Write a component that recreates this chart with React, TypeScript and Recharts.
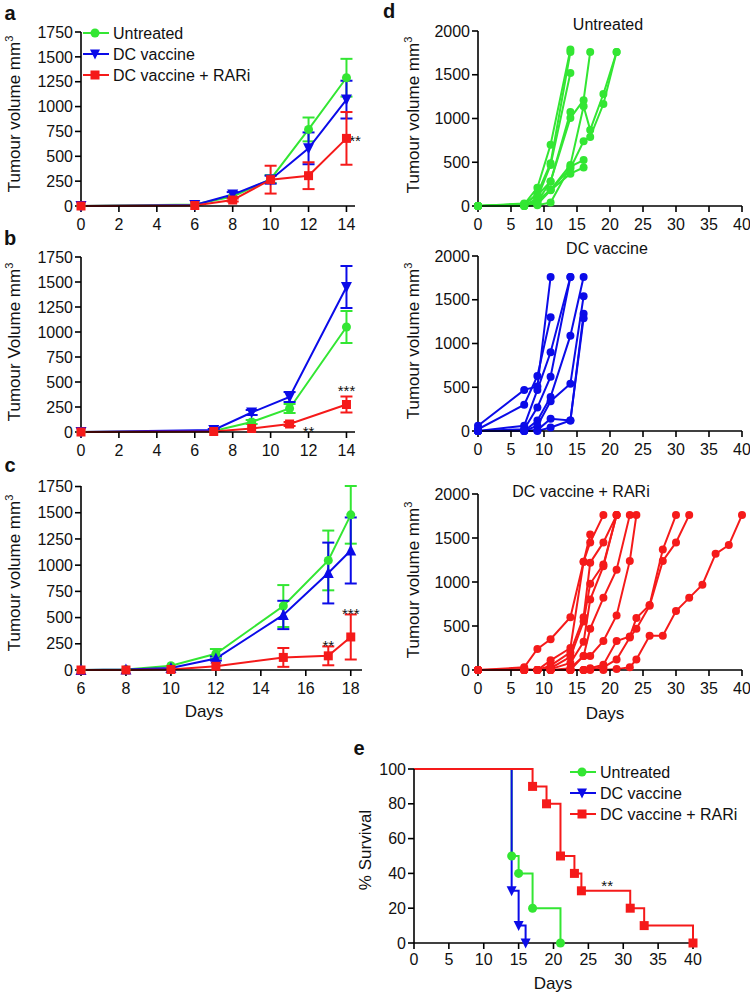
import React from 'react';
import { LineChart, Line, XAxis, YAxis, ErrorBar, ReferenceDot, Legend } from 'recharts';

const GREEN = '#33e633';
const BLUE = '#0b0be8';
const RED = '#f51a1a';
const FONT = '"Liberation Sans", Arial, Helvetica, sans-serif';

// panel a
const daysA = [0, 6, 8, 10, 12, 14];
const untreatedA = [0, 15, 95, 270, 770, 1290];
const untreatedErrA = [null, null, null, 40, 120, 190];
const dcA = [0, 10, 115, 265, 580, 1070];
const dcErrA = [null, null, 25, 40, 160, 190];
const rariA = [0, 5, 60, 265, 305, 680];
const rariErrA = [null, null, 15, 140, 135, 265];

// panel b
const daysB = [0, 7, 9, 11, 14];
const untreatedB = [0, 10, 100, 235, 1050];
const untreatedErrB = [null, null, 20, 45, 160];
const dcB = [0, 20, 195, 350, 1450];
const dcErrB = [null, 10, 25, 50, 210];
const rariB = [0, 5, 35, 80, 275];
const rariErrB = [null, null, null, 20, 80];

// panel c
const daysC = [6, 8, 10, 12, 15, 17, 18];
const untreatedC = [0, 5, 40, 155, 610, 1045, 1480];
const untreatedErrC = [null, null, null, 45, 200, 285, 275];
const dcC = [0, 5, 20, 110, 525, 925, 1140];
const dcErrC = [null, null, null, 20, 135, 290, 315];
const rariC = [0, 0, 5, 35, 120, 135, 315];
const rariErrC = [null, null, null, null, 90, 90, 215];

// panel d, one [day, volume] list per mouse
const untreatedMice = [
  [[0, 0], [7, 20], [9, 210], [11, 700], [14, 1790]],
  [[0, 0], [7, 10], [9, 145], [11, 490], [14, 1760]],
  [[0, 0], [7, 5], [9, 90], [11, 470], [14, 1520]],
  [[0, 0], [7, 30], [9, 120], [11, 280], [14, 1075]],
  [[0, 0], [7, 0], [9, 50], [11, 280], [14, 1005], [16, 1210], [17, 1760]],
  [[0, 0], [7, 10], [9, 60], [11, 185], [14, 470], [16, 1140], [17, 870], [19, 1280], [21, 1760]],
  [[0, 0], [7, 20], [9, 30], [11, 190], [14, 430], [16, 740], [17, 790], [19, 1165], [21, 1760]],
  [[0, 0], [7, 0], [9, 20], [11, 180], [14, 370], [16, 440]],
  [[0, 0], [7, 0], [9, 10], [11, 40], [14, 450], [16, 525]],
];
const dcMice = [
  [[0, 60], [7, 470], [9, 510], [11, 1760]],
  [[0, 20], [7, 300], [9, 630], [11, 1300]],
  [[0, 0], [7, 60], [9, 470], [11, 900], [14, 1760]],
  [[0, 0], [7, 20], [9, 270], [11, 620], [14, 1760]],
  [[0, 0], [7, 0], [9, 120], [11, 390], [14, 1090], [16, 1760]],
  [[0, 0], [7, 0], [9, 60], [11, 340], [14, 540], [16, 1540]],
  [[0, 0], [7, 10], [9, 10], [11, 140], [14, 120], [16, 1340]],
  [[0, 0], [7, 0], [9, 0], [11, 40], [14, 120], [16, 1290]],
];
const rariMice = [
  [[0, 0], [7, 30], [9, 240], [11, 350], [14, 600], [16, 1230], [17, 1540]],
  [[0, 0], [7, 10], [9, 0], [11, 110], [14, 250], [16, 1230], [17, 1450], [19, 1760]],
  [[0, 0], [7, 0], [9, 0], [11, 50], [14, 200], [16, 600], [17, 1220], [19, 1450], [21, 1760]],
  [[0, 0], [7, 0], [9, 0], [11, 20], [14, 150], [16, 550], [17, 980], [19, 1200], [21, 1760]],
  [[0, 0], [7, 0], [9, 0], [11, 10], [14, 80], [16, 320], [17, 800], [19, 1180], [21, 1760]],
  [[0, 0], [7, 0], [9, 0], [11, 0], [14, 20], [16, 160], [17, 470], [19, 820], [21, 1140], [23, 1760]],
  [[0, 0], [7, 0], [9, 0], [11, 0], [14, 0], [16, 160], [17, 160], [19, 330], [21, 620], [23, 1240], [24, 1760]],
  [[0, 0], [7, 0], [9, 0], [11, 0], [14, 0], [16, 0], [17, 20], [19, 60], [21, 330], [23, 380], [24, 590], [26, 740], [28, 1370], [30, 1760]],
  [[0, 0], [7, 0], [9, 0], [11, 0], [14, 0], [16, 0], [17, 10], [19, 30], [21, 120], [23, 370], [24, 470], [26, 730], [28, 1240], [30, 1450], [32, 1760]],
  [[0, 0], [7, 0], [9, 0], [11, 0], [14, 0], [16, 0], [17, 0], [19, 0], [21, 10], [23, 30], [24, 120], [26, 390], [28, 390], [30, 670], [32, 820], [34, 970], [36, 1320], [38, 1420], [40, 1760]],
];

// panel e, Kaplan-Meier steps
const survUntreated = [[0, 100], [14, 50], [15, 40], [17, 20], [21, 0]];
const survDc = [[0, 100], [14, 30], [15, 10], [16, 0]];
const survRari = [[0, 100], [17, 90], [19, 80], [21, 50], [23, 40], [24, 30], [31, 20], [33, 10], [40, 0]];

const volTicks = [0, 250, 500, 750, 1000, 1250, 1500, 1750];
const mouseTicks = [0, 500, 1000, 1500, 2000];
const dayTicks40 = [0, 5, 10, 15, 20, 25, 30, 35, 40];

const groups = [
  { name: 'Untreated', color: GREEN, shape: 'circle' },
  { name: 'DC vaccine', color: BLUE, shape: 'down' },
  { name: 'DC vaccine + RARi', color: RED, shape: 'square' },
];

const table = (days, g, gE, b, bE, r, rE) =>
  days.map((d, i) => ({ day: d, g: g[i], gE: gE[i], b: b[i], bE: bE[i], r: r[i], rE: rE[i] }));
const pts = (arr) => arr.map(([d, v]) => ({ d, v }));

const Marker = ({ shape, cx, cy, color, s = 4.5 }) => {
  if (cx == null || cy == null) return null;
  if (shape === 'circle') return <circle cx={cx} cy={cy} r={s} fill={color} />;
  if (shape === 'square') return <rect x={cx - s} y={cy - s} width={2 * s} height={2 * s} fill={color} />;
  if (shape === 'up')
    return <polygon points={`${cx - s - 0.5},${cy + s} ${cx + s + 0.5},${cy + s} ${cx},${cy - s - 1}`} fill={color} />;
  return <polygon points={`${cx - s - 0.5},${cy - s} ${cx + s + 0.5},${cy - s} ${cx},${cy + s + 1}`} fill={color} />;
};

const dotFn = (shape, color, s = 4.5, skipFirst = false) => (p) => {
  if (skipFirst && p.index === 0) return <g key={p.index} />;
  return <Marker key={p.index} shape={shape} cx={p.cx} cy={p.cy} color={color} s={s} />;
};

const Stars = ({ text, dx = 0 }) => (p) => (
  <text x={p.cx + dx} y={p.cy + 9} textAnchor="middle" fontSize={15} fontFamily={FONT} fill="#111">
    {text}
  </text>
);

const margin = (box, plot, yw, xh) => ({
  left: plot.x0 - box.left - yw,
  right: box.left + box.width - plot.x1,
  top: plot.y0 - box.top,
  bottom: box.top + box.height - plot.y1 - xh,
});

const axisProps = {
  stroke: '#000',
  strokeWidth: 1.6,
  tickSize: 6,
  tick: { fill: '#111', fontSize: 16, fontFamily: FONT },
};

const LegendBox = ({ rows, rowGap = 21 }) => (
  <svg width={200} height={rows.length * rowGap + 6}>
    {rows.map((g, i) => {
      const y = 10 + i * rowGap;
      return (
        <g key={g.name}>
          <line x1={2} x2={28} y1={y} y2={y} stroke={g.color} strokeWidth={2} />
          <Marker shape={g.shape} cx={14} cy={y} color={g.color} />
          <text x={32} y={y + 6} fontSize={16} fontFamily={FONT} fill="#111">
            {g.name}
          </text>
        </g>
      );
    })}
  </svg>
);

const Abs = ({ x, y, children, rotate = false, size = 16, bold = false }) => (
  <div
    style={{
      position: 'absolute',
      left: x,
      top: y,
      transform: `translate(-50%, -50%)${rotate ? ' rotate(-90deg)' : ''}`,
      fontSize: size,
      lineHeight: `${size}px`,
      fontFamily: FONT,
      fontWeight: bold ? 'bold' : 'normal',
      whiteSpace: 'nowrap',
      color: '#111',
    }}
  >
    {children}
  </div>
);

const Cube = () => <sup style={{ fontSize: 11, verticalAlign: '7px', lineHeight: 0 }}>3</sup>;

function GroupPanel({ box, plot, data, xDomain, xTicks, upTri = false, stars, legend = false }) {
  const m = margin(box, plot, 50, 25);
  return (
    <div style={{ position: 'absolute', left: box.left, top: box.top }}>
      <LineChart width={box.width} height={box.height} data={data} margin={m}>
        <XAxis dataKey="day" type="number" domain={xDomain} ticks={xTicks} height={25} tickMargin={7} {...axisProps} />
        <YAxis type="number" domain={[0, 1750]} ticks={volTicks} width={50} {...axisProps} />
        <Line dataKey="g" stroke={GREEN} strokeWidth={2} dot={dotFn('circle', GREEN)} isAnimationActive={false}>
          <ErrorBar dataKey="gE" stroke={GREEN} strokeWidth={2} width={6} isAnimationActive={false} />
        </Line>
        <Line dataKey="b" stroke={BLUE} strokeWidth={2} dot={dotFn(upTri ? 'up' : 'down', BLUE, 5)} isAnimationActive={false}>
          <ErrorBar dataKey="bE" stroke={BLUE} strokeWidth={2} width={6} isAnimationActive={false} />
        </Line>
        <Line dataKey="r" stroke={RED} strokeWidth={2} dot={dotFn('square', RED)} isAnimationActive={false}>
          <ErrorBar dataKey="rE" stroke={RED} strokeWidth={2} width={6} isAnimationActive={false} />
        </Line>
        {stars.map((s, i) => (
          <ReferenceDot key={i} x={s.x} y={s.y} r={0} shape={Stars({ text: s.text, dx: s.dx || 0 })} ifOverflow="visible" />
        ))}
        {legend && (
          <Legend
            layout="vertical"
            align="center"
            verticalAlign="middle"
            wrapperStyle={{ position: 'absolute', left: 81 - box.left, top: 23 - box.top, width: 200 }}
            content={() => <LegendBox rows={groups} />}
          />
        )}
      </LineChart>
    </div>
  );
}

function MicePanel({ box, plot, mice, color }) {
  const m = margin(box, plot, 50, 25);
  return (
    <div style={{ position: 'absolute', left: box.left, top: box.top }}>
      <LineChart width={box.width} height={box.height} margin={m}>
        <XAxis dataKey="d" type="number" domain={[0, 40]} ticks={dayTicks40} height={25} tickMargin={7} {...axisProps} />
        <YAxis type="number" domain={[0, 2000]} ticks={mouseTicks} width={50} {...axisProps} />
        {mice.map((mouse, i) => (
          <Line
            key={i}
            data={pts(mouse)}
            dataKey="v"
            stroke={color}
            strokeWidth={2}
            dot={dotFn('circle', color, 4)}
            isAnimationActive={false}
          />
        ))}
      </LineChart>
    </div>
  );
}

function SurvivalPanel() {
  const box = { left: 370, top: 755, width: 380, height: 239 };
  const plot = { x0: 414, x1: 693, y0: 769, y1: 943 };
  const m = margin(box, plot, 40, 25);
  const series = [
    { ...groups[0], data: survUntreated },
    { ...groups[1], data: survDc },
    { ...groups[2], data: survRari },
  ];
  return (
    <div style={{ position: 'absolute', left: box.left, top: box.top }}>
      <LineChart width={box.width} height={box.height} margin={m}>
        <XAxis dataKey="d" type="number" domain={[0, 40]} ticks={dayTicks40} height={25} tickMargin={5} {...axisProps} />
        <YAxis type="number" domain={[0, 100]} ticks={[0, 20, 40, 60, 80, 100]} width={40} {...axisProps} />
        {series.map((s) => (
          <Line
            key={s.name}
            data={pts(s.data)}
            dataKey="v"
            type="stepAfter"
            stroke={s.color}
            strokeWidth={2}
            dot={dotFn(s.shape, s.color, 4.5, true)}
            isAnimationActive={false}
          />
        ))}
        <ReferenceDot x={27.7} y={35} r={0} shape={Stars({ text: '**' })} ifOverflow="visible" />
        <Legend
          layout="vertical"
          align="center"
          verticalAlign="middle"
          wrapperStyle={{ position: 'absolute', left: 568 - box.left, top: 762 - box.top, width: 200 }}
          content={() => <LegendBox rows={groups} />}
        />
      </LineChart>
    </div>
  );
}

export default function App() {
  const dataA = table(daysA, untreatedA, untreatedErrA, dcA, dcErrA, rariA, rariErrA);
  const dataB = table(daysB, untreatedB, untreatedErrB, dcB, dcErrB, rariB, rariErrB);
  const dataC = table(daysC, untreatedC, untreatedErrC, dcC, dcErrC, rariC, rariErrC);
  return (
    <div style={{ position: 'absolute', left: 0, top: 0, width: 750, height: 994, background: '#fff', fontFamily: FONT }}>
      <GroupPanel
        box={{ left: 20, top: 20, width: 360, height: 222 }}
        plot={{ x0: 81, x1: 355, y0: 32, y1: 206 }}
        data={dataA}
        xDomain={[0, 14.45]}
        xTicks={[0, 2, 4, 6, 8, 10, 12, 14]}
        stars={[{ x: 14.45, y: 694, text: '**' }]}
        legend
      />
      <GroupPanel
        box={{ left: 20, top: 245, width: 360, height: 222 }}
        plot={{ x0: 81, x1: 355, y0: 257, y1: 432 }}
        data={dataB}
        xDomain={[0, 14.45]}
        xTicks={[0, 2, 4, 6, 8, 10, 12, 14]}
        stars={[
          { x: 14, y: 450, text: '***' },
          { x: 12, y: 45, text: '**' },
        ]}
      />
      <GroupPanel
        box={{ left: 20, top: 475, width: 360, height: 228 }}
        plot={{ x0: 81, x1: 362, y0: 486, y1: 670 }}
        data={dataC}
        xDomain={[6, 18.5]}
        xTicks={[6, 8, 10, 12, 14, 16, 18]}
        upTri
        stars={[
          { x: 18, y: 571, text: '***' },
          { x: 17, y: 266, text: '**' },
        ]}
      />
      <MicePanel
        box={{ left: 420, top: 20, width: 330, height: 222 }}
        plot={{ x0: 478, x1: 742, y0: 31, y1: 206 }}
        mice={untreatedMice}
        color={GREEN}
      />
      <MicePanel
        box={{ left: 420, top: 245, width: 330, height: 222 }}
        plot={{ x0: 478, x1: 742, y0: 256, y1: 431 }}
        mice={dcMice}
        color={BLUE}
      />
      <MicePanel
        box={{ left: 420, top: 483, width: 330, height: 220 }}
        plot={{ x0: 478, x1: 742, y0: 494, y1: 670 }}
        mice={rariMice}
        color={RED}
      />
      <SurvivalPanel />

      <Abs x={10} y={13} size={20} bold>a</Abs>
      <Abs x={10} y={238} size={20} bold>b</Abs>
      <Abs x={10} y={465} size={20} bold>c</Abs>
      <Abs x={389} y={11} size={20} bold>d</Abs>
      <Abs x={359} y={748} size={20} bold>e</Abs>

      <Abs x={14} y={114} size={17} rotate>Tumour volume mm<Cube /></Abs>
      <Abs x={14} y={342} size={17} rotate>Tumour Volume mm<Cube /></Abs>
      <Abs x={14} y={573} size={17} rotate>Tumour volume mm<Cube /></Abs>
      <Abs x={413} y={115} size={17} rotate>Tumour volume mm<Cube /></Abs>
      <Abs x={413} y={341} size={17} rotate>Tumour volume mm<Cube /></Abs>
      <Abs x={413} y={580} size={17} rotate>Tumour volume mm<Cube /></Abs>
      <Abs x={365} y={850} size={17} rotate>% Survival</Abs>

      <Abs x={608} y={25}>Untreated</Abs>
      <Abs x={607} y={249}>DC vaccine</Abs>
      <Abs x={581} y={492}>DC vaccine + RARi</Abs>

      <Abs x={204} y={711} size={17}>Days</Abs>
      <Abs x={605} y={713} size={17}>Days</Abs>
      <Abs x={553} y={983} size={17}>Days</Abs>
    </div>
  );
}
